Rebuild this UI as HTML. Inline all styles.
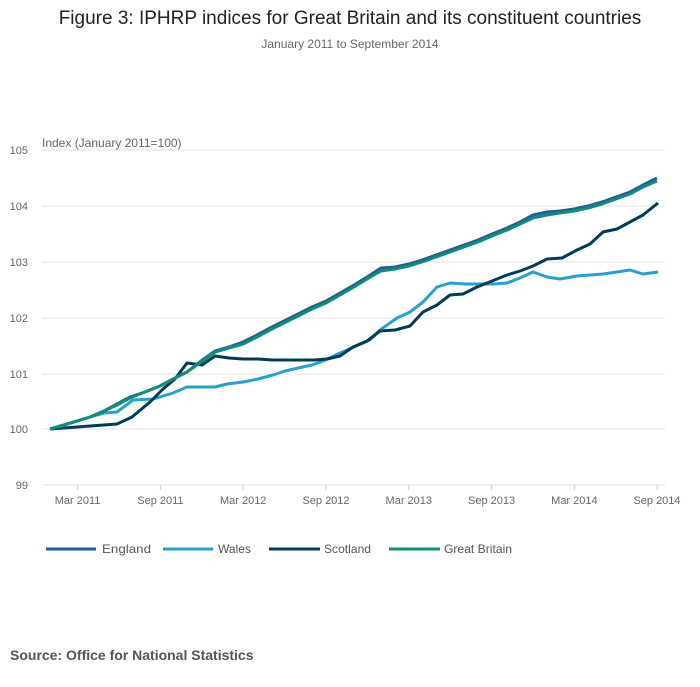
<!DOCTYPE html><html><head><style>body{margin:0;background:#fff;width:700px;height:682px;overflow:hidden;font-family:"Liberation Sans",sans-serif}</style></head><body>
<svg width="700" height="682" xmlns="http://www.w3.org/2000/svg" font-family="Liberation Sans, sans-serif">
<text x="350" y="24" text-anchor="middle" font-size="19" fill="#222">Figure 3: IPHRP indices for Great Britain and its constituent countries</text>
<text x="350" y="48" text-anchor="middle" font-size="12" fill="#666">January 2011 to September 2014</text>
<text x="42" y="147" font-size="12" fill="#666">Index (January 2011=100)</text>
<g stroke="#e0e0e0" stroke-width="1">
<line x1="42" x2="665" y1="150" y2="150"/><line x1="42" x2="665" y1="206" y2="206"/><line x1="42" x2="665" y1="262" y2="262"/><line x1="42" x2="665" y1="318" y2="318"/><line x1="42" x2="665" y1="374" y2="374"/><line x1="42" x2="665" y1="429" y2="429"/><line x1="42" x2="665" y1="485" y2="485"/>
</g>
<g font-size="11" fill="#666" text-anchor="end">
<text x="28" y="154">105</text><text x="28" y="210">104</text><text x="28" y="266">103</text><text x="28" y="322">102</text><text x="28" y="378">101</text><text x="28" y="433">100</text><text x="28" y="489">99</text>
</g>
<g stroke="#ccc"><line x1="77.6" x2="77.6" y1="485" y2="490"/><line x1="160.4" x2="160.4" y1="485" y2="490"/><line x1="243.2" x2="243.2" y1="485" y2="490"/><line x1="326" x2="326" y1="485" y2="490"/><line x1="408.8" x2="408.8" y1="485" y2="490"/><line x1="491.6" x2="491.6" y1="485" y2="490"/><line x1="574.4" x2="574.4" y1="485" y2="490"/><line x1="657" x2="657" y1="485" y2="490"/></g>
<g font-size="11" fill="#666" text-anchor="middle">
<text x="77.6" y="504">Mar 2011</text><text x="160.4" y="504">Sep 2011</text><text x="243.2" y="504">Mar 2012</text><text x="326" y="504">Sep 2012</text><text x="408.8" y="504">Mar 2013</text><text x="491.6" y="504">Sep 2013</text><text x="574.4" y="504">Mar 2014</text><text x="657" y="504">Sep 2014</text>
</g>
<g fill="none" stroke-width="3" stroke-linejoin="round">
<polyline stroke="#27a0cc" points="50,429 64,425 77,421 90,417 104,413 117,412 133,400 153,399 173,393 187,387 201,387 215,387 227,384 243,382 258,379 273,375 285,371 298,368 312,365 323,361 340,353 354,347 370,340 380,330 397,318 410,312 423,302 437,287 450,283 465,284 480,284 494,284 507,283 520,278 533,272 547,277 560,279 577,276 590,275 603,274 617,272 630,270 643,274 658,272"/>
<polyline stroke="#003c57" points="50,429 64,428 77,427 90,426 104,425 117,424 132,417 150,402 163,389 175,379 187,363 202,365 215,356 229,358 243,359 258,359 273,360 287,360 300,360 314,360 327,359 340,356 353,347 367,341 380,331 395,330 410,326 423,312 437,305 450,295 463,294 477,287 492,281 507,275 520,271 533,266 547,259 562,258 577,250 590,244 603,232 617,229 630,222 643,215 658,203"/>
<polyline stroke="#206095" points="50,429 64,425 77,421 90,417 104,411 117,404 130,397 145,392 160,386 173,379 187,372 201,361 215,351 229,347 243,342 257,335 270,328 284,321 298,314 312,307 326,301 340,293 354,285 367,277 381,268 395,267 409,264 422,260 436,255 450,250 464,245 478,240 492,234 507,228 520,222 533,215 547,212 560,211 574,209 588,206 602,202 616,197 630,192 643,185 657,178"/>
<polyline stroke="#118c7b" points="50,429 64,425 77,421 90,417 104,411 117,405 130,398 145,392 160,386 173,379 187,372 201,362 215,352 229,348 243,344 257,337 270,330 284,323 298,316 312,309 326,303 340,295 354,287 367,279 381,271 395,269 409,266 422,262 436,257 450,252 464,247 478,242 492,236 507,230 520,224 533,218 547,215 560,213 574,211 588,208 602,204 616,199 630,194 643,187 657,181"/>
</g>
<g stroke-width="3"><line x1="46" x2="96" y1="549" y2="549" stroke="#206095"/><line x1="163" x2="213" y1="549" y2="549" stroke="#27a0cc"/><line x1="269" x2="320" y1="549" y2="549" stroke="#003c57"/><line x1="389" x2="440" y1="549" y2="549" stroke="#118c7b"/></g>
<g font-size="12" fill="#555"><text x="102" y="553" textLength="49" lengthAdjust="spacingAndGlyphs">England</text><text x="218" y="553" textLength="33" lengthAdjust="spacingAndGlyphs">Wales</text><text x="324" y="553" textLength="47" lengthAdjust="spacingAndGlyphs">Scotland</text><text x="444" y="553" textLength="68" lengthAdjust="spacingAndGlyphs">Great Britain</text></g>
<text x="10" y="660" font-size="14" font-weight="bold" fill="#555">Source: Office for National Statistics</text>
</svg></body></html>
